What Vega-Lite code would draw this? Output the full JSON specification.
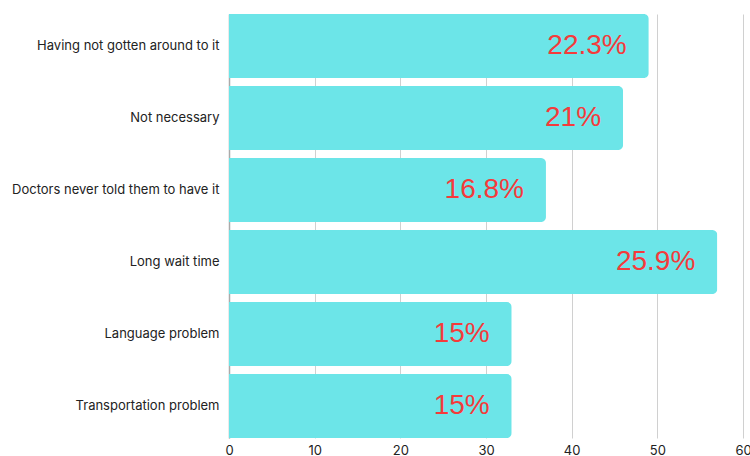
{
  "$schema": "https://vega.github.io/schema/vega-lite/v6.json",
  "width": 514,
  "height": 424,
  "autosize": {"type": "none"},
  "padding": {"left": 229, "top": 14, "right": 7, "bottom": 18},
  "background": "white",
  "config": {"view": {"stroke": null}, "font": "Inter"},
  "data": {
    "values": [
      {"reason": "Having not gotten around to it", "value": 49, "label": "22.3%"},
      {"reason": "Not necessary", "value": 46, "label": "21%"},
      {"reason": "Doctors never told them to have it", "value": 37, "label": "16.8%"},
      {"reason": "Long wait time", "value": 57, "label": "25.9%"},
      {"reason": "Language problem", "value": 33, "label": "15%"},
      {"reason": "Transportation problem", "value": 33, "label": "15%"}
    ]
  },
  "encoding": {
    "y": {
      "field": "reason", "type": "nominal", "sort": null, "title": null,
      "scale": {"paddingInner": 0.111, "paddingOuter": 0},
      "axis": {"ticks": false, "domain": true, "domainColor": "#aaaaaa", "domainWidth": 1.5, "labelFontSize": 13, "labelLimit": 300, "labelColor": "#222222", "labelPadding": 10, "labelFont": "Inter"}
    },
    "x": {
      "field": "value", "type": "quantitative", "title": null,
      "scale": {"domain": [0, 60], "nice": false},
      "axis": {"values": [0, 10, 20, 30, 40, 50, 60], "ticks": false, "domain": false, "grid": true, "gridColor": "#d0d0d0", "gridWidth": 1, "labelFontSize": 13, "labelColor": "#222222", "labelPadding": 6, "labelFont": "Inter", "labelFlush": false}
    }
  },
  "layer": [
    {"mark": {"type": "bar", "color": "#6ce5e8", "cornerRadiusEnd": 5}},
    {
      "mark": {"type": "text", "align": "right", "baseline": "middle", "dx": -22, "fontSize": 28, "color": "#f43b3b", "font": "Liberation Sans"},
      "encoding": {"text": {"field": "label"}}
    }
  ]
}
